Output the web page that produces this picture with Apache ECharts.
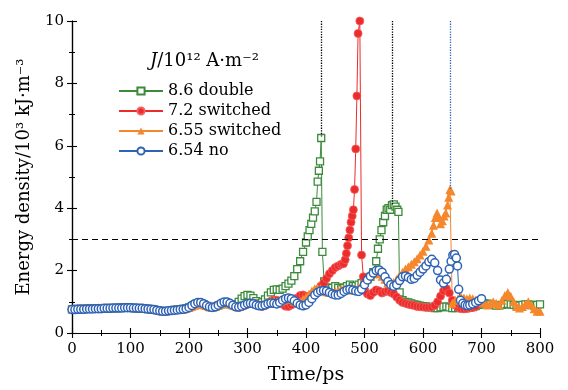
<!DOCTYPE html>
<html>
<head>
<meta charset="utf-8">
<script src="https://cdn.jsdelivr.net/npm/echarts@6/dist/echarts.min.js"></script>
<style>
  html, body { margin: 0; padding: 0; background: #fff; }
  #chart { width: 568px; height: 390px; }
</style>
</head>
<body>
<div id="chart"></div>
<script>
// energy density (10^3 kJ/m^3) vs time (ps)
const xTicks = [0, 100, 200, 300, 400, 500, 600, 700, 800]
const yTicks = [0, 2, 4, 6, 8, 10]

// 8.6 double
const green = [
  [0,0.76],[5,0.76],[10,0.77],[15,0.77],[20,0.77],[25,0.78],[30,0.78],[35,0.78],[40,0.78],[45,0.79],
  [50,0.79],[55,0.79],[60,0.8],[65,0.8],[70,0.8],[75,0.8],[80,0.81],[85,0.81],[90,0.81],[95,0.81],
  [100,0.81],[105,0.8],[110,0.8],[115,0.79],[120,0.79],[125,0.78],[130,0.77],[135,0.76],[140,0.75],[145,0.73],
  [150,0.71],[155,0.7],[160,0.7],[165,0.71],[170,0.72],[175,0.74],[180,0.75],[185,0.76],[190,0.77],[195,0.79],
  [200,0.82],[205,0.87],[210,0.92],[215,0.95],[220,0.95],[225,0.92],[230,0.87],[235,0.83],[240,0.82],[245,0.84],
  [250,0.88],[255,0.92],[260,0.95],[265,0.95],[270,0.92],[275,0.9],[280,0.92],[285,1.0],[290,1.1],[295,1.18],
  [300,1.22],[305,1.2],[310,1.12],[315,1.02],[320,0.95],[325,0.98],[330,1.08],[335,1.2],[340,1.3],[345,1.38],
  [350,1.4],[355,1.38],[360,1.42],[365,1.5],[370,1.58],[375,1.68],[380,1.82],[385,2.05],[390,2.3],[395,2.6],
  [400,2.9],[403,3.1],[406,3.3],[409,3.5],[412,3.7],[415,3.9],[418,4.2],[420,4.85],[422,5.2],[424,5.5],
  [426,6.25],[428,2.6],[431,1.65],[435,1.45],[440,1.4],[445,1.45],[450,1.5],[455,1.45],[460,1.4],[465,1.45],
  [470,1.5],[475,1.55],[480,1.5],[485,1.5],[490,1.55],[495,1.6],[500,1.7],[505,1.72],[510,1.8],[515,1.95],
  [520,2.3],[523,2.7],[526,3.0],[529,3.3],[532,3.55],[535,3.75],[538,3.95],[541,4.0],[544,3.95],[547,4.1],
  [550,4.12],[553,4.05],[556,3.95],[558,3.88],[560,1.3],[565,1.05],[570,1.0],[575,0.98],[580,0.95],[585,0.92],
  [590,0.9],[595,0.88],[600,0.86],[605,0.85],[610,0.84],[615,0.82],[620,0.8],[625,0.8],[630,0.82],[635,0.84],
  [640,0.85],[645,0.82],[650,0.8],[655,0.8],[660,0.82],[665,0.84],[670,0.85],[675,0.84],[680,0.82],[685,0.83],
  [690,0.86],[695,0.9],[700,0.93],[705,0.95],[710,0.94],[715,0.92],[720,0.9],[725,0.88],[730,0.88],[735,0.9],
  [740,0.92],[745,0.93],[750,0.92],[755,0.9],[760,0.88],[765,0.88],[770,0.9],[775,0.92],[780,0.92],[785,0.9],
  [790,0.88],[795,0.9],[800,0.92]
]

// 7.2 switched
const red = [
  [0,0.76],[5,0.76],[10,0.76],[15,0.77],[20,0.77],[25,0.77],[30,0.78],[35,0.78],[40,0.78],[45,0.78],
  [50,0.79],[55,0.79],[60,0.79],[65,0.8],[70,0.8],[75,0.8],[80,0.8],[85,0.81],[90,0.81],[95,0.81],
  [100,0.81],[105,0.8],[110,0.8],[115,0.79],[120,0.78],[125,0.78],[130,0.77],[135,0.76],[140,0.74],[145,0.72],
  [150,0.7],[155,0.69],[160,0.69],[165,0.7],[170,0.72],[175,0.73],[180,0.74],[185,0.75],[190,0.76],[195,0.78],
  [200,0.8],[205,0.84],[210,0.88],[215,0.9],[220,0.9],[225,0.88],[230,0.85],[235,0.83],[240,0.83],[245,0.86],
  [250,0.9],[255,0.94],[260,0.96],[265,0.95],[270,0.92],[275,0.87],[280,0.83],[285,0.82],[290,0.84],[295,0.88],
  [300,0.92],[305,0.95],[310,0.95],[315,0.92],[320,0.88],[325,0.85],[330,0.88],[335,0.95],[340,1.02],[345,1.06],
  [350,1.05],[355,1.0],[360,0.92],[365,0.86],[370,0.85],[375,0.9],[380,1.0],[385,1.12],[390,1.2],[395,1.22],
  [400,1.18],[405,1.12],[410,1.15],[415,1.25],[420,1.38],[425,1.5],[430,1.6],[435,1.75],[440,1.9],[445,2.0],
  [450,2.1],[455,2.15],[460,2.2],[464,2.22],[467,2.35],[469,2.55],[471,2.8],[473,3.05],[475,3.3],[477,3.55],
  [479,3.75],[481,3.95],[483,4.6],[485,5.9],[487,7.6],[489,9.6],[492,10.0],[495,2.5],[498,1.8],[501,1.35],
  [505,1.25],[510,1.2],[515,1.3],[520,1.38],[525,1.35],[530,1.28],[535,1.32],[540,1.35],[545,1.3],[550,1.25],
  [555,1.15],[560,1.05],[565,0.98],[570,0.95],[575,0.92],[580,0.9],[585,0.88],[590,0.85],[595,0.84],[600,0.83],
  [605,0.82],[610,0.82],[615,0.83],[620,0.88],[625,1.0],[630,1.18],[635,1.35],[640,1.42],[645,1.28],[650,1.05],
  [655,0.9],[660,0.82],[665,0.78],[670,0.77],[675,0.78],[680,0.8],[685,0.82],[690,0.85]
]

// 6.55 switched
const orange = [
  [0,0.78],[5,0.78],[10,0.79],[15,0.79],[20,0.79],[25,0.8],[30,0.8],[35,0.8],[40,0.8],[45,0.81],
  [50,0.81],[55,0.81],[60,0.82],[65,0.82],[70,0.82],[75,0.82],[80,0.83],[85,0.83],[90,0.83],[95,0.83],
  [100,0.83],[105,0.82],[110,0.82],[115,0.81],[120,0.81],[125,0.8],[130,0.79],[135,0.78],[140,0.77],[145,0.75],
  [150,0.73],[155,0.72],[160,0.72],[165,0.73],[170,0.74],[175,0.75],[180,0.76],[185,0.77],[190,0.78],[195,0.8],
  [200,0.82],[205,0.86],[210,0.9],[215,0.93],[220,0.94],[225,0.92],[230,0.88],[235,0.85],[240,0.84],[245,0.86],
  [250,0.9],[255,0.94],[260,0.97],[265,0.97],[270,0.94],[275,0.9],[280,0.87],[285,0.86],[290,0.88],[295,0.92],
  [300,0.95],[305,0.97],[310,0.96],[315,0.93],[320,0.9],[325,0.9],[330,0.94],[335,0.98],[340,1.02],[345,1.03],
  [350,1.0],[355,1.0],[360,1.05],[365,1.1],[370,1.12],[375,1.08],[380,1.02],[385,0.98],[390,1.0],[395,1.08],
  [400,1.15],[405,1.25],[410,1.35],[415,1.42],[420,1.45],[425,1.42],[430,1.38],[435,1.32],[440,1.3],[445,1.3],
  [450,1.32],[455,1.36],[460,1.4],[465,1.42],[470,1.42],[475,1.4],[480,1.38],[485,1.4],[490,1.45],[495,1.55],
  [500,1.65],[505,1.75],[510,1.83],[515,1.9],[520,1.92],[525,1.9],[530,1.82],[535,1.72],[540,1.62],[545,1.58],
  [550,1.62],[555,1.72],[560,1.85],[565,1.95],[570,2.05],[575,2.12],[580,2.2],[585,2.28],[590,2.38],[595,2.5],
  [600,2.62],[605,2.78],[610,2.98],[615,3.2],[618,3.45],[621,3.7],[624,3.85],[627,3.7],[630,3.5],[633,3.6],
  [636,3.75],[639,3.85],[642,4.1],[644,4.35],[646,4.6],[648,4.55],[650,0.95],[655,1.05],[660,1.1],[665,1.15],
  [670,1.12],[675,1.1],[680,1.12],[685,1.1],[690,1.05],[695,1.02],[700,1.0],[705,0.95],[710,0.9],[715,0.95],
  [720,1.0],[725,0.95],[730,0.9],[735,1.05],[740,1.2],[745,1.3],[750,1.18],[755,1.0],[760,0.85],[765,0.8],
  [770,0.85],[775,0.92],[780,1.0],[785,0.9],[790,0.78],[795,0.7],[800,0.7]
]

// 6.54 no
const blue = [
  [0,0.75],[5,0.75],[10,0.76],[15,0.76],[20,0.76],[25,0.77],[30,0.77],[35,0.77],[40,0.78],[45,0.78],
  [50,0.78],[55,0.79],[60,0.79],[65,0.79],[70,0.8],[75,0.8],[80,0.8],[85,0.8],[90,0.81],[95,0.81],
  [100,0.81],[105,0.8],[110,0.8],[115,0.79],[120,0.79],[125,0.78],[130,0.77],[135,0.76],[140,0.75],[145,0.73],
  [150,0.71],[155,0.7],[160,0.7],[165,0.71],[170,0.72],[175,0.73],[180,0.74],[185,0.75],[190,0.76],[195,0.78],
  [200,0.82],[205,0.88],[210,0.94],[215,0.98],[220,0.98],[225,0.94],[230,0.88],[235,0.84],[240,0.82],[245,0.84],
  [250,0.89],[255,0.95],[260,0.99],[265,0.99],[270,0.95],[275,0.89],[280,0.84],[285,0.83],[290,0.86],[295,0.9],
  [300,0.94],[305,0.95],[310,0.94],[315,0.9],[320,0.87],[325,0.87],[330,0.9],[335,0.94],[340,0.96],[345,0.95],
  [350,0.93],[355,0.98],[360,1.05],[365,1.1],[370,1.12],[375,1.1],[380,1.03],[385,0.95],[390,0.9],[395,0.87],
  [400,0.9],[405,0.98],[410,1.1],[415,1.22],[420,1.3],[425,1.35],[430,1.36],[435,1.35],[440,1.3],[445,1.25],
  [450,1.22],[455,1.22],[460,1.27],[465,1.33],[470,1.38],[475,1.4],[480,1.38],[485,1.35],[490,1.33],[495,1.4],
  [500,1.55],[505,1.7],[510,1.82],[515,1.92],[520,2.0],[525,2.02],[530,1.95],[535,1.8],[540,1.65],[545,1.55],
  [550,1.5],[555,1.55],[560,1.68],[565,1.8],[570,1.83],[575,1.78],[580,1.72],[585,1.75],[590,1.85],[595,1.95],
  [600,2.05],[605,2.15],[610,2.28],[615,2.36],[620,2.25],[625,2.0],[630,1.7],[635,1.6],[640,1.72],[645,2.05],
  [648,2.3],[651,2.5],[654,2.52],[657,2.4],[659,2.15],[661,1.4],[664,1.05],[668,0.95],[672,0.9],[676,0.88],
  [680,0.9],[685,0.93],[690,0.98],[695,1.03],[700,1.1]
]

// dotted guide lines: time and the value they drop to from the top
const guideT = [426, 548, 646]
const guideV = [6.3, 4.1, 4.6]
const guideColor = ['#000', '#000', '#2e62b5']
const threshold = 3

const font = 'DejaVu Serif'

const chartDom = document.getElementById('chart')
const chart = echarts.init(chartDom)

const baseX = {
  type: 'value', min: 0, max: 800, interval: 100,
  axisLine: { lineStyle: { color: '#000', width: 1.2 } },
  axisTick: { inside: true, length: 5, lineStyle: { color: '#000', width: 1.1 } },
  minorTick: { show: true, splitNumber: 2, length: 3, lineStyle: { color: '#000', width: 1 } },
  splitLine: { show: false }
}
const baseY = {
  type: 'value', min: 0, max: 10, interval: 2,
  axisLine: { show: true, lineStyle: { color: '#000', width: 1.2 } },
  axisTick: { inside: true, length: 5, lineStyle: { color: '#000', width: 1.1 } },
  minorTick: { show: true, splitNumber: 2, length: 3, lineStyle: { color: '#000', width: 1 } },
  splitLine: { show: false }
}

const guideLines = guideT.map((t, i) => [
  { coord: [t, 10], lineStyle: { color: guideColor[i] } },
  { coord: [t, guideV[i]] }
])

const option = {
  animation: false,
  backgroundColor: '#fff',
  grid: { left: 72, right: 28, top: 21, bottom: 56 },
  xAxis: [
    Object.assign({}, baseX, {
      position: 'bottom',
      name: 'Time/ps', nameLocation: 'middle', nameGap: 33,
      nameTextStyle: { fontFamily: font, fontSize: 19, color: '#000' },
      axisLabel: { fontFamily: font, fontSize: 15, color: '#000', margin: 9,
        formatter: v => xTicks.includes(v) ? String(v) : '' }
    }),
    Object.assign({}, baseX, { position: 'top', axisLabel: { show: false } })
  ],
  yAxis: [
    Object.assign({}, baseY, {
      position: 'left',
      name: 'Energy density/10³ kJ·m⁻³', nameLocation: 'middle', nameGap: 39,
      nameTextStyle: { fontFamily: font, fontSize: 18, color: '#000' },
      axisLabel: { fontFamily: font, fontSize: 15, color: '#000', margin: 8,
        formatter: v => yTicks.includes(v) ? String(v) : '' }
    }),
    Object.assign({}, baseY, { position: 'right', axisLabel: { show: false } })
  ],
  legend: {
    orient: 'vertical', left: 113, top: 78,
    itemWidth: 44, itemHeight: 9, itemGap: 4,
    textStyle: { fontFamily: font, fontSize: 16, color: '#000', lineHeight: 16 },
    data: ['8.6 double', '7.2 switched', '6.55 switched', '6.54 no']
  },
  graphic: [{
    type: 'text', left: 150, top: 52,
    style: {
      text: '{i|J}/10¹² A·m⁻²',
      font: '18px "DejaVu Serif"', fill: '#000',
      rich: { i: { fontFamily: font, fontSize: 18, fontStyle: 'italic', fill: '#000' } }
    }
  }],
  series: [
    {
      name: '8.6 double', type: 'line', data: green,
      symbol: 'rect', symbolSize: 7,
      itemStyle: { color: '#fff', borderColor: '#3b8b3b', borderWidth: 1.3 },
      lineStyle: { color: '#3b8b3b', width: 1 },
      markLine: {
        silent: true, symbol: 'none', label: { show: false },
        lineStyle: { type: 'dotted', width: 1.3 },
        data: guideLines
      }
    },
    {
      name: '7.2 switched', type: 'line', data: red,
      symbol: 'circle', symbolSize: 8,
      itemStyle: { color: '#ec2b2b', borderColor: '#f26060', borderWidth: 0.8 },
      lineStyle: { color: '#ec2b2b', width: 1 }
    },
    {
      name: '6.55 switched', type: 'line', data: orange,
      symbol: 'triangle', symbolSize: 9,
      itemStyle: { color: '#f5872d' },
      lineStyle: { color: '#f5872d', width: 1 }
    },
    {
      name: '6.54 no', type: 'line', data: blue,
      symbol: 'circle', symbolSize: 8,
      itemStyle: { color: '#fff', borderColor: '#2e62b5', borderWidth: 1.5 },
      lineStyle: { color: '#2e62b5', width: 1 },
      markLine: {
        silent: true, symbol: 'none', label: { show: false },
        lineStyle: { type: [6, 4], color: '#000', width: 1.2 },
        data: [{ yAxis: threshold }]
      }
    }
  ]
}

chart && chart.setOption(option)
</script>
</body>
</html>
